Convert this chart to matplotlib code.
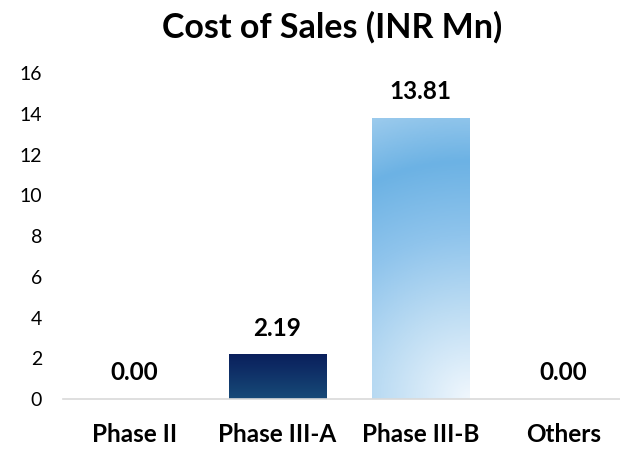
import matplotlib
matplotlib.use('Agg')
import matplotlib.pyplot as plt
import numpy as np
from matplotlib.colors import LinearSegmentedColormap

categories = ['Phase II', 'Phase III-A', 'Phase III-B', 'Others']
values = [0.00, 2.19, 13.81, 0.00]
y_ticks = [0, 2, 4, 6, 8, 10, 12, 14, 16]
title = 'Cost of Sales (INR Mn)'

plt.rcParams['font.family'] = ['Lato', 'DejaVu Sans']

fig = plt.figure(figsize=(6.2, 4.49), dpi=100)
W, H = 620, 449
ax = fig.add_axes([63 / W, 50 / H, 572 / W, 325.6 / H])
ax.set_xlim(-0.5, 3.5)
ax.set_ylim(0, 16)

x = np.arange(len(categories))
bars = ax.bar(x, values, width=0.68, color='none', edgecolor='none')

dark_cmap = LinearSegmentedColormap.from_list('dark', ['#174a78', '#0a1f5c'])
light_cmap = LinearSegmentedColormap.from_list(
    'light', [(0.0, '#f0f7fd'), (0.3, '#bcdcf3'), (0.55, '#8fc4ec'),
              (0.8, '#6cb2e4'), (1.0, '#9ccbed')])

for i, (b, v) in enumerate(zip(bars, values)):
    if v <= 0:
        continue
    x0, w, h = b.get_x(), b.get_width(), b.get_height()
    ny, nx = 200, 80
    yy, xx = np.mgrid[0:1:ny * 1j, 0:1:nx * 1j]
    if i == 1:
        img = dark_cmap(yy)
    else:
        pw, ph = 97.0, 281.0
        d = np.sqrt(((1 - xx) * pw) ** 2 + (yy * ph) ** 2) / np.sqrt(pw ** 2 + ph ** 2)
        img = light_cmap(d)
    im = ax.imshow(img, extent=[x0, x0 + w, 0, h], origin='lower',
                   aspect='auto', interpolation='bilinear', zorder=2)
    im.set_clip_path(b)
    ax.set_xlim(-0.5, 3.5)
    ax.set_ylim(0, 16)

for b, v in zip(bars, values):
    ax.annotate(f'{v:.2f}', (b.get_x() + b.get_width() / 2, v),
                xytext=(0, 19), textcoords='offset points',
                ha='center', va='center', fontsize=17.5, fontweight='bold',
                color='#000000')

ax.set_yticks(y_ticks)
ax.set_yticklabels([str(t) for t in y_ticks], fontsize=14, color='#000000')
ax.set_xticks(x)
ax.set_xticklabels(categories, fontsize=17.5, fontweight='bold', color='#000000')
ax.tick_params(axis='y', length=0, pad=15)
ax.tick_params(axis='x', length=0, pad=17)

for s in ['top', 'right', 'left']:
    ax.spines[s].set_visible(False)
ax.spines['bottom'].set_color('#d9d9d9')
ax.spines['bottom'].set_linewidth(1.2)

fig.text(332 / W, 1 - 27 / H, title, ha='center', va='center',
         fontsize=24.5, fontweight='bold', color='#000000')

fig.savefig('out.png', dpi=100)
